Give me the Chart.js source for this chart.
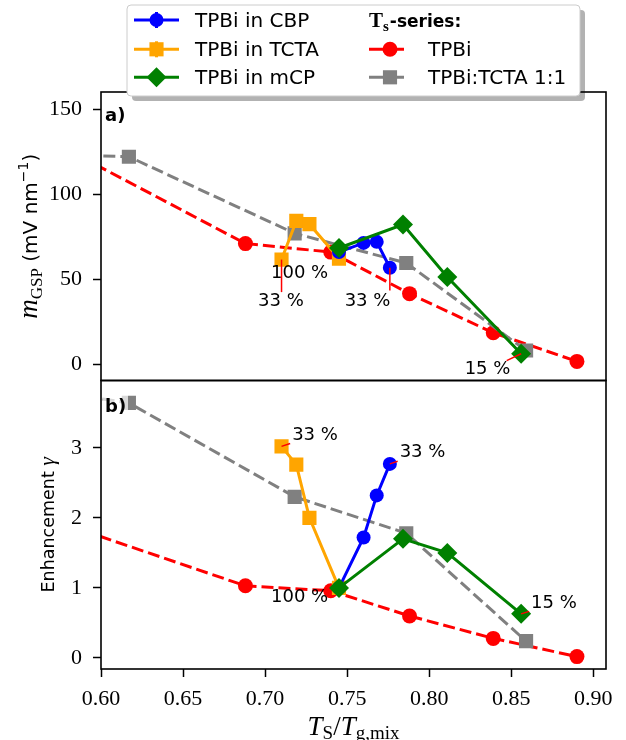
<!DOCTYPE html>
<html>
<head>
<meta charset="utf-8">
<title>GSP slope and enhancement vs T_S/T_g,mix</title>
<script src="https://cdn.jsdelivr.net/npm/chart.js@4.4.1/dist/chart.umd.min.js"></script>
<style>
  html, body { margin: 0; padding: 0; background: #fff; }
  canvas { display: block; }
</style>
</head>
<body>
<canvas id="gspChart" width="626" height="740"></canvas>
<script>
// x values: T_S / T_g,mix
const cbpX = [0.745, 0.760, 0.768, 0.776];
const tctaX = [0.710, 0.719, 0.727, 0.745];
const mcpX = [0.745, 0.784, 0.811, 0.856];
const tpbiX = [0.56, 0.688, 0.740, 0.788, 0.839, 0.890];   // first point sits left of the plotted range
const mixX = [0.56, 0.617, 0.718, 0.786, 0.859];

// panel a) m_GSP in mV/nm
const cbpSlope = [66.0, 71.4, 72.0, 56.8];
const tctaSlope = [61.6, 84.3, 82.4, 62.2];
const mcpSlope = [68.4, 82.2, 51.4, 6.3];
const tpbiSlope = [136.0, 71.0, 66.0, 41.6, 18.6, 1.8];
const mixSlope = [123.4, 122.0, 77.0, 59.6, 8.2];

// panel b) enhancement gamma
const cbpGamma = [1.00, 1.72, 2.32, 2.77];
const tctaGamma = [3.02, 2.76, 2.00, 1.00];
const mcpGamma = [1.00, 1.70, 1.50, 0.63];
const tpbiGamma = [2.05, 1.03, 0.96, 0.60, 0.28, 0.02];
const mixGamma = [3.84, 3.64, 2.30, 1.78, 0.24];

const xTicks = [0.60, 0.65, 0.70, 0.75, 0.80, 0.85, 0.90];
const slopeTicks = [0, 50, 100, 150];
const gammaTicks = [0, 1, 2, 3];

const seriesNames = ['TPBi in CBP', 'TPBi in TCTA', 'TPBi in mCP', 'TPBi', 'TPBi:TCTA 1:1'];

// percentage labels: text centre in data coords, pt = marker the red line starts at,
// end = optional line end (otherwise the line stops at the text box)
const notes = [
    { axis: 'ya', text: '100 %', tx: 0.721, ty: 53.3 },
    { axis: 'ya', text: '33 %', tx: 0.7096, ty: 36.8, pt: [tctaX[0], tctaSlope[0]], end: [tctaX[0], 42.5] },
    { axis: 'ya', text: '33 %', tx: 0.7624, ty: 37.0, pt: [cbpX[3], cbpSlope[3]], end: [cbpX[3], 43.5] },
    { axis: 'ya', text: '15 %', tx: 0.8355, ty: -3.0, pt: [mcpX[3], mcpSlope[3]] },
    { axis: 'yb', text: '33 %', tx: 0.7304, ty: 3.18, pt: [tctaX[0], tctaGamma[0]] },
    { axis: 'yb', text: '33 %', tx: 0.7959, ty: 2.93, pt: [cbpX[3], cbpGamma[3]] },
    { axis: 'yb', text: '100 %', tx: 0.721, ty: 0.87 },
    { axis: 'yb', text: '15 %', tx: 0.876, ty: 0.776, pt: [mcpX[3], mcpGamma[3]] }
];

const SANS = 'DejaVu Sans';
const SERIF = 'Liberation Serif';

const looks = [
    { color: '#0000ff', pointStyle: 'circle', radius: 7, dash: [] },
    { color: '#ffa500', pointStyle: 'rect', radius: 10, dash: [] },
    { color: '#008000', pointStyle: 'rectRot', radius: 10, dash: [] },
    { color: '#ff0000', pointStyle: 'circle', radius: 7.5, dash: [12, 5] },
    { color: '#808080', pointStyle: 'rect', radius: 10, dash: [12, 5] }
];
const drawOrder = [1, 2, 0, 4, 3]; // lower number ends up on top

function series(i, xs, ys, axis) {
    const look = looks[i];
    return {
        label: seriesNames[i],
        data: xs.map((x, k) => ({ x: x, y: ys[k] })),
        yAxisID: axis,
        borderColor: look.color,
        backgroundColor: look.color,
        borderWidth: 3,
        borderDash: look.dash,
        pointStyle: look.pointStyle,
        pointRadius: look.radius,
        pointHoverRadius: look.radius,
        pointBorderWidth: 0,
        pointBackgroundColor: look.color,
        tension: 0,
        clip: 0,
        order: drawOrder[i]
    };
}

function drawMark(ctx, style, x, y, r, color) {
    ctx.fillStyle = color;
    ctx.beginPath();
    if (style === 'circle') {
        ctx.arc(x, y, r, 0, Math.PI * 2);
    } else if (style === 'rect') {
        const h = r * Math.SQRT1_2;
        ctx.rect(x - h, y - h, 2 * h, 2 * h);
    } else {
        ctx.moveTo(x, y - r); ctx.lineTo(x + r, y); ctx.lineTo(x, y + r); ctx.lineTo(x - r, y);
        ctx.closePath();
    }
    ctx.fill();
}

// walk from marker p toward text centre c and stop where the text box starts
function edgePoint(p, c, box) {
    const dx = c.x - p.x, dy = c.y - p.y;
    let tx = -Infinity, ty = -Infinity;
    if (dx > 0) tx = (box.l - p.x) / dx; else if (dx < 0) tx = (box.r - p.x) / dx;
    if (dy > 0) ty = (box.t - p.y) / dy; else if (dy < 0) ty = (box.b - p.y) / dy;
    const t = Math.min(1, Math.max(0, tx, ty));
    return { x: p.x + dx * t, y: p.y + dy * t };
}

function drawRich(ctx, parts, cx, cy, angle) {
    ctx.save();
    ctx.translate(cx, cy);
    ctx.rotate(angle);
    let w = 0;
    parts.forEach(p => { ctx.font = p.font; w += ctx.measureText(p.t).width; });
    let x = -w / 2;
    ctx.fillStyle = '#000';
    ctx.textAlign = 'left';
    ctx.textBaseline = 'alphabetic';
    parts.forEach(p => {
        ctx.font = p.font;
        ctx.fillText(p.t, x, p.dy || 0);
        x += ctx.measureText(p.t).width;
    });
    ctx.restore();
}

function roundRect(ctx, x, y, w, h, r) {
    ctx.beginPath();
    ctx.moveTo(x + r, y);
    ctx.arcTo(x + w, y, x + w, y + h, r);
    ctx.arcTo(x + w, y + h, x, y + h, r);
    ctx.arcTo(x, y + h, x, y, r);
    ctx.arcTo(x, y, x + w, y, r);
    ctx.closePath();
}

function drawLegend(ctx) {
    const bx = 127, by = 5, bw = 453, bh = 91;
    ctx.save();
    ctx.fillStyle = 'rgba(0,0,0,0.3)';
    roundRect(ctx, bx + 5, by + 5, bw, bh, 4);
    ctx.fill();
    ctx.fillStyle = '#fff';
    roundRect(ctx, bx, by, bw, bh, 4);
    ctx.fill();
    ctx.strokeStyle = '#cccccc';
    ctx.lineWidth = 1;
    ctx.stroke();

    const rows = [20, 49.3, 77.3];
    ctx.textAlign = 'left';
    ctx.textBaseline = 'alphabetic';
    // left column: host series with error-bar handles
    [0, 1, 2].forEach((i, r) => {
        const y = rows[r], look = looks[i];
        ctx.strokeStyle = look.color;
        ctx.lineWidth = 3;
        ctx.beginPath(); ctx.moveTo(134, y); ctx.lineTo(179, y); ctx.stroke();
        ctx.beginPath(); ctx.moveTo(156.5, y - 8); ctx.lineTo(156.5, y + 8); ctx.stroke();
        drawMark(ctx, look.pointStyle, 156.5, y, look.radius, look.color);
        ctx.fillStyle = '#000';
        ctx.font = '20px ' + SANS;
        ctx.fillText(seriesNames[i], 195, y + 7);
    });
    // right column: header then T_S series
    ctx.fillStyle = '#000';
    ctx.font = 'bold 21px ' + SERIF;
    ctx.fillText('T', 369, rows[0] + 7);
    let x = 369 + ctx.measureText('T').width;
    ctx.font = 'bold 15px ' + SERIF;
    ctx.fillText('s', x, rows[0] + 11);
    x += ctx.measureText('s').width + 1;
    ctx.font = 'bold 17px ' + SANS;
    ctx.fillText('-series:', x, rows[0] + 7);
    [3, 4].forEach((i, r) => {
        const y = rows[r + 1], look = looks[i];
        ctx.strokeStyle = look.color;
        ctx.lineWidth = 3;
        ctx.beginPath(); ctx.moveTo(369, y); ctx.lineTo(404, y); ctx.stroke();
        drawMark(ctx, look.pointStyle, 390, y, look.radius, look.color);
        ctx.fillStyle = '#000';
        ctx.font = '20px ' + SANS;
        ctx.fillText(seriesNames[i], 428, y + 7);
    });
    ctx.restore();
}

const decor = {
    id: 'decor',
    afterDatasetsDraw(chart) {
        const { ctx, chartArea, scales } = chart;
        ctx.save();
        ctx.font = '18px ' + SANS;
        ctx.textAlign = 'center';
        ctx.textBaseline = 'middle';
        notes.forEach(n => {
            const ys = scales[n.axis];
            const cx = scales.x.getPixelForValue(n.tx);
            const cy = ys.getPixelForValue(n.ty);
            const w = ctx.measureText(n.text).width;
            if (n.pt) {
                const p = { x: scales.x.getPixelForValue(n.pt[0]), y: ys.getPixelForValue(n.pt[1]) };
                const e = n.end
                    ? { x: scales.x.getPixelForValue(n.end[0]), y: ys.getPixelForValue(n.end[1]) }
                    : edgePoint(p, { x: cx, y: cy }, { l: cx - w / 2 - 2, r: cx + w / 2 + 2, t: cy - 9, b: cy + 9 });
                ctx.strokeStyle = '#ff0000';
                ctx.lineWidth = 1.5;
                ctx.beginPath(); ctx.moveTo(p.x, p.y); ctx.lineTo(e.x, e.y); ctx.stroke();
            }
            ctx.fillStyle = '#000';
            ctx.fillText(n.text, cx, cy);
        });

        // panel frames
        ctx.strokeStyle = '#000';
        ctx.lineWidth = 1.6;
        [scales.ya, scales.yb].forEach(s => {
            ctx.strokeRect(chartArea.left, s.top, chartArea.right - chartArea.left, s.bottom - s.top);
        });

        // panel letters
        ctx.textAlign = 'left';
        ctx.textBaseline = 'alphabetic';
        ctx.font = 'bold 18px ' + SANS;
        [['a)', scales.ya.top + 28.5], ['b)', scales.yb.top + 31]].forEach(([t, y]) => {
            ctx.fillStyle = 'rgba(255,255,255,0.7)';
            ctx.fillRect(chartArea.left + 2, y - 17, 25, 22);
            ctx.fillStyle = '#000';
            ctx.fillText(t, chartArea.left + 4, y);
        });
        ctx.restore();
    },
    afterDraw(chart) {
        const { ctx, chartArea, scales } = chart;
        const midA = (scales.ya.top + scales.ya.bottom) / 2;
        const midB = (scales.yb.top + scales.yb.bottom) / 2;
        drawRich(ctx, [
            { t: 'm', font: 'italic 27px ' + SERIF },
            { t: 'GSP', font: '17px ' + SERIF, dy: 5 },
            { t: ' (mV nm', font: '20px ' + SANS },
            { t: '\u22121', font: '14px ' + SANS, dy: -9 },
            { t: ')', font: '20px ' + SANS }
        ], 36.5, midA, -Math.PI / 2);
        drawRich(ctx, [
            { t: 'Enhancement ', font: '17.5px ' + SANS },
            { t: '\u03b3', font: 'italic 22px ' + SERIF }
        ], 54, midB, -Math.PI / 2);
        drawRich(ctx, [
            { t: 'T', font: 'italic 27px ' + SERIF },
            { t: 'S', font: '19px ' + SERIF, dy: 4 },
            { t: '/', font: '27px ' + SERIF },
            { t: 'T', font: 'italic 27px ' + SERIF },
            { t: 'g,mix', font: '19px ' + SERIF, dy: 4 }
        ], (chartArea.left + chartArea.right) / 2, 735, 0);
        drawLegend(ctx);
    }
};

const tickGrid = { drawOnChartArea: false, drawTicks: true, tickLength: 8, tickWidth: 1.5, tickColor: '#000', color: '#000' };
const tickFont = { family: SERIF, size: 22 };

new Chart(document.getElementById('gspChart').getContext('2d'), {
    type: 'line',
    data: {
        datasets: [
            series(0, cbpX, cbpSlope, 'ya'),
            series(1, tctaX, tctaSlope, 'ya'),
            series(2, mcpX, mcpSlope, 'ya'),
            series(3, tpbiX, tpbiSlope, 'ya'),
            series(4, mixX, mixSlope, 'ya'),
            series(0, cbpX, cbpGamma, 'yb'),
            series(1, tctaX, tctaGamma, 'yb'),
            series(2, mcpX, mcpGamma, 'yb'),
            series(3, tpbiX, tpbiGamma, 'yb'),
            series(4, mixX, mixGamma, 'yb')
        ]
    },
    options: {
        responsive: false,
        animation: false,
        devicePixelRatio: 1,
        layout: { padding: { top: 92, right: 20, left: 0, bottom: 0 } },
        plugins: { legend: { display: false }, tooltip: { enabled: false } },
        scales: {
            x: {
                type: 'linear',
                position: 'bottom',
                min: 0.60,
                max: 0.9077,
                afterBuildTicks: s => { s.ticks = xTicks.map(v => ({ value: v })); },
                afterFit: s => { s.height = 71; },
                ticks: { callback: v => v.toFixed(2), font: tickFont, color: '#000', padding: 9, maxRotation: 0, autoSkip: false },
                grid: tickGrid,
                border: { display: false }
            },
            yb: {
                type: 'linear',
                position: 'left',
                stack: 'panels',
                stackWeight: 1,
                min: -0.157,
                max: 3.96,
                afterBuildTicks: s => { s.ticks = gammaTicks.map(v => ({ value: v })); },
                afterFit: s => { s.width = 101; },
                ticks: { callback: v => String(v), font: tickFont, color: '#000', padding: 11, autoSkip: false },
                grid: tickGrid,
                border: { display: false }
            },
            ya: {
                type: 'linear',
                position: 'left',
                stack: 'panels',
                stackWeight: 1,
                min: -9.4,
                max: 160,
                afterBuildTicks: s => { s.ticks = slopeTicks.map(v => ({ value: v })); },
                afterFit: s => { s.width = 101; },
                ticks: { callback: v => String(v), font: tickFont, color: '#000', padding: 11, autoSkip: false },
                grid: tickGrid,
                border: { display: false }
            }
        }
    },
    plugins: [decor]
});
</script>
</body>
</html>
